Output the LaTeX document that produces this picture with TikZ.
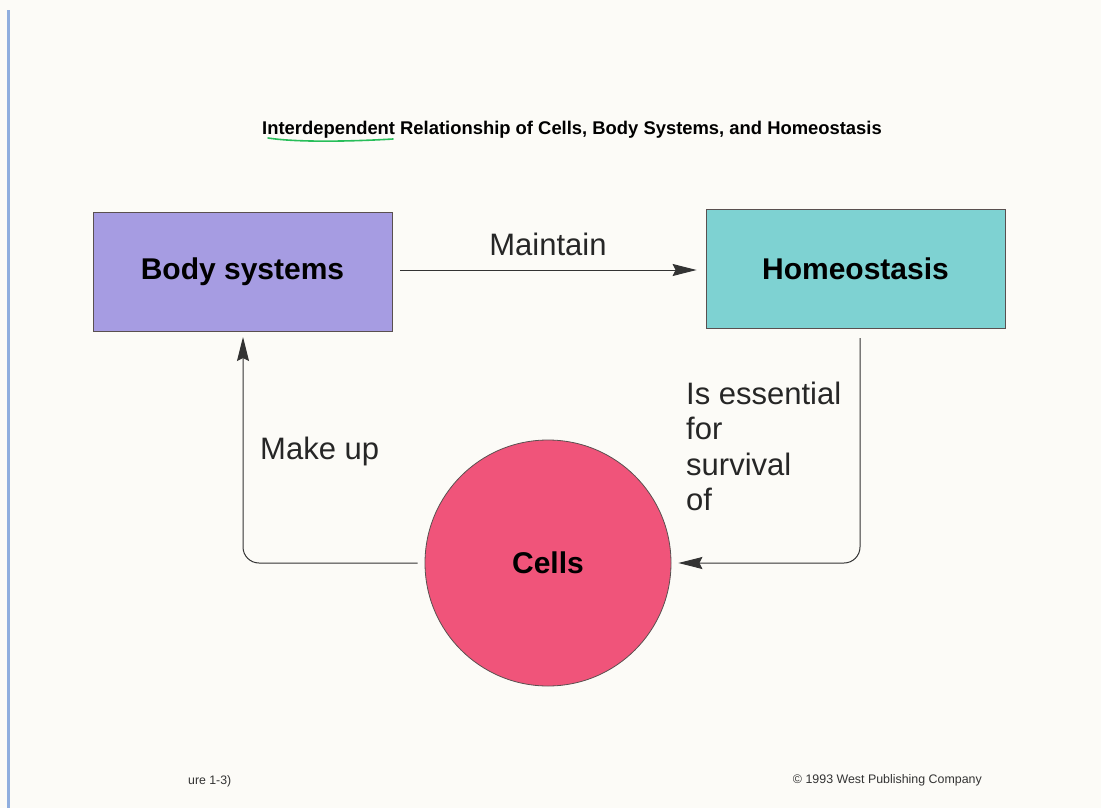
\documentclass[tikz,border=0pt]{standalone}
\usepackage{fontspec}
\setmainfont{Liberation Sans}
\usetikzlibrary{arrows.meta}
\definecolor{paper}{RGB}{252,251,247}
\definecolor{lavender}{RGB}{166,156,226}
\definecolor{teal}{RGB}{126,210,210}
\definecolor{pink}{RGB}{240,84,122}
\definecolor{edge}{RGB}{90,80,80}
\definecolor{scanblue}{RGB}{70,120,200}
\definecolor{marker}{RGB}{40,190,90}
\tikzset{
  boxnode/.style={draw=edge, line width=0.8pt, minimum width=299pt, minimum height=119pt, inner sep=0pt, font=\fontsize{30}{36}\selectfont\bfseries},
  cellnode/.style={circle, draw=edge, line width=0.8pt, minimum size=246pt, inner sep=0pt, font=\fontsize{30}{36}\selectfont\bfseries},
  lbl/.style={inner sep=0pt, font=\fontsize{31}{35.5}\selectfont, text=black!85},
  conn/.style={line width=1pt, draw=black!80, -{Stealth[length=24pt,width=12pt,inset=3pt]}},
}
\begin{document}
\begin{tikzpicture}[x=1pt,y=-1pt]
  \fill[paper] (0,0) rectangle (1101,808);
  \useasboundingbox (0,0) rectangle (1101,808);
  \fill[scanblue!60] (7,10) rectangle (10,808);
  % title
  \node[inner sep=0pt, anchor=base, font=\fontsize{18.4}{22}\selectfont\bfseries] (title) at (572,134)
    {Interdependent Relationship of Cells, Body Systems, and Homeostasis};
  \draw[marker, line width=1.6pt, line cap=round] (268,138) .. controls (300,143) and (360,141) .. (393,139);
  % nodes
  \node[boxnode, fill=lavender] (body) at (242.5,271.5) {Body systems};
  \node[boxnode, fill=teal] (homeo) at (855.5,269) {Homeostasis};
  \node[cellnode, fill=pink] (cells) at (548,563) {Cells};
  % connectors
  \draw[conn, shorten <=8pt, shorten >=9pt] (body.east |- 0,270) -- (homeo.west |- 0,270);
  \draw[conn, rounded corners=16pt, shorten <=10pt, shorten >=7pt] (860,328) |- (cells.east);
  \draw[conn, rounded corners=16pt, shorten <=7pt, shorten >=6pt] (cells.west) -| (243,331);
  % labels
  \node[lbl, anchor=base] (maintain) at (548,255) {Maintain};
  \node[lbl, anchor=base west] (makeup) at (260,459) {Make up};
  \node[lbl, anchor=north west, align=left] (essential) at (686,381.5) {Is essential\\for\\survival\\of};
  % footer
  \node[inner sep=0pt, anchor=base west, font=\fontsize{12.3}{14}\selectfont, text=black!80] (fig) at (188,784) {ure 1-3)};
  \node[inner sep=0pt, anchor=base east, font=\fontsize{12.4}{14}\selectfont, text=black!80] (copy) at (982,783) {\textcopyright{} 1993 West Publishing Company};
\end{tikzpicture}
\end{document}
